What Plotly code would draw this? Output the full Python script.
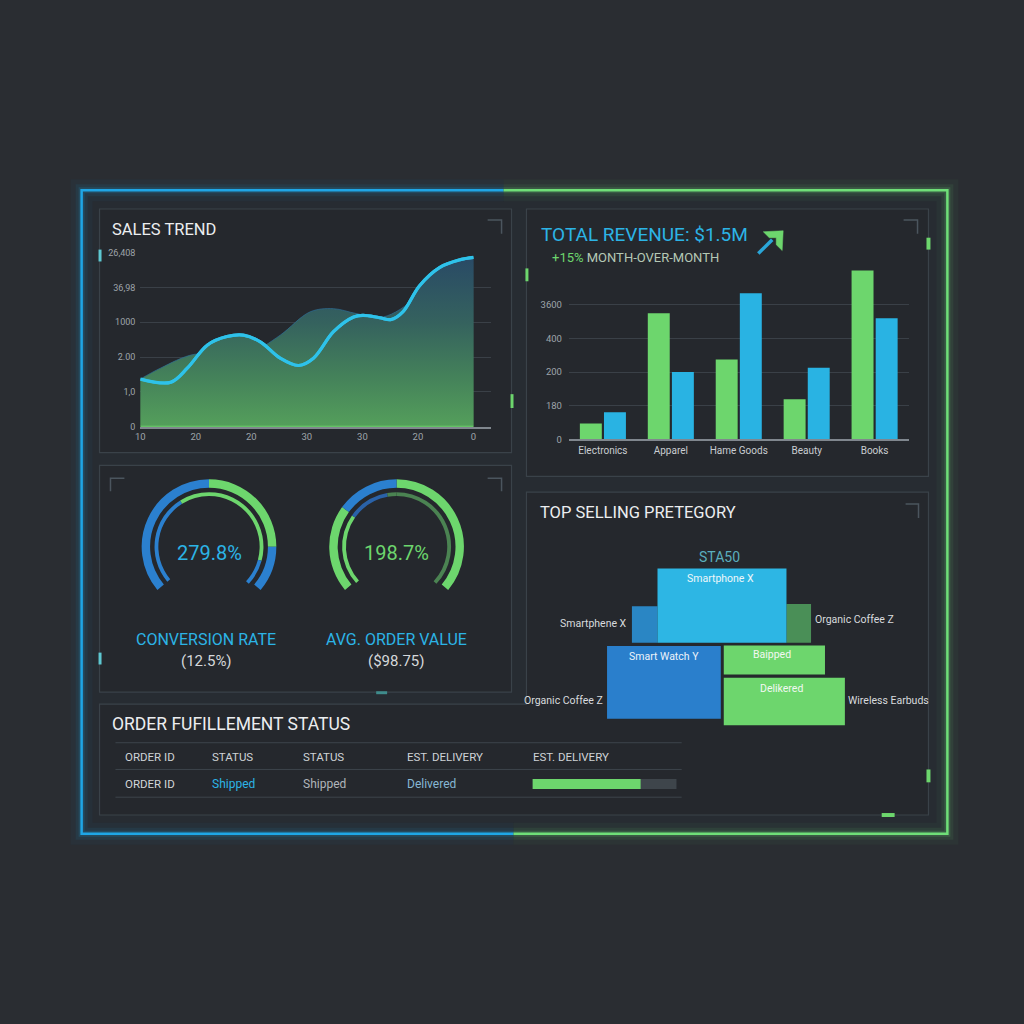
import plotly.graph_objects as go

W = H = 1024
def X(p): return p / W
def Y(p): return 1 - p / H

FONT = "Roboto"
CYAN = "#2cb4e6"
GREEN = "#6dd66d"
GBLUE = "#2b80cf"
WHITE = "#eceef0"
TICK = "#9ea4aa"

# ---------------- data ----------------
# Sales trend (grid units)
sales_x = [0.0, 0.55, 0.85, 1.21, 1.56, 1.86, 2.16, 2.52, 2.85, 3.12, 3.48, 3.84,
           4.01, 4.31, 4.52, 4.73, 5.03, 5.39, 5.75, 6.0]
sales_y = [1.37, 1.28, 1.69, 2.35, 2.59, 2.63, 2.44, 1.97, 1.76, 1.97, 2.73, 3.15,
           3.20, 3.13, 3.08, 3.30, 4.05, 4.57, 4.79, 4.86]
shadow_x = [0.0, 0.37, 0.97, 1.68, 1.98, 2.52, 3.06, 3.48, 3.89, 4.37, 4.97, 5.39, 5.75, 6.0]
shadow_y = [1.37, 1.69, 2.08, 2.05, 2.11, 2.63, 3.30, 3.39, 3.25, 3.15, 3.72, 4.57, 4.79, 4.86]
sales_xticks = [0, 1, 2, 3, 4, 5, 6]
sales_xtick_text = ["10", "20", "20", "30", "30", "20", "0"]
sales_yticks = [0, 1, 2, 3, 4, 5]
sales_ytick_text = ["0", "1,0", "2.00", "1000", "36,98", "26,408"]

# Revenue bars
rev_categories = ["Electronics", "Apparel", "Hame Goods", "Beauty", "Books"]
rev_green = [47, 375, 237, 119, 502]
rev_blue = [81, 200, 434, 213, 360]
rev_yticks = [0, 100, 200, 300, 400]
rev_ytick_text = ["0", "180", "200", "400", "3600"]

# Gauges (degrees, clockwise from 12 o'clock); None = gap
g1_outer = [90, 40, 100, 130]
g1_outer_c = [GREEN, GBLUE, None, GBLUE]
g1_inner = [105, 28, 97, 98, 32]
g1_inner_c = [GREEN, GBLUE, None, GBLUE, GREEN]
g2_outer = [130, 100, 76, 54]
g2_outer_c = [GREEN, None, GREEN, GBLUE]
g2_inner = [133, 95, 77, 45, 10]
g2_inner_c = ["#4b8352", None, GREEN, "#2a62a8", "#4b8352"]

# Top selling blocks (x0, x1, y0, y1 in block units)
blk_x0 = [30.0, 185.3, 55.7, 5.0, 122.3, 122.3]
blk_x1 = [55.7, 210.0, 185.3, 119.3, 224.0, 244.0]
blk_y0 = [86.0, 86.0, 86.0, 9.3, 54.0, 2.7]
blk_y1 = [122.7, 125.0, 161.0, 82.7, 83.3, 50.7]
blk_colors = ["#2a86c4", "#4a8f57", "#2db6e4", "#2a7fcc", GREEN, GREEN]

# Order progress
progress_value = [75]
progress_track = [100]

# ---------------- figure ----------------
fig = go.Figure()

grad = dict(type="vertical", start=0, stop=5,
            colorscale=[[0, "#55a05b"], [0.3, "#44815a"], [0.6, "#35625e"], [1, "#284866"]])

fig.add_trace(go.Scatter(x=shadow_x, y=shadow_y, mode="lines", line=dict(color="rgba(45,110,150,0.7)", width=1, shape="spline"),
                         fill="tozeroy", fillgradient=grad, xaxis="x", yaxis="y", hoverinfo="skip", showlegend=False))
fig.add_trace(go.Scatter(x=sales_x, y=sales_y, mode="lines", line=dict(color="#2ec2ea", width=3, shape="spline"),
                         fill="tozeroy", fillgradient=grad, xaxis="x", yaxis="y", hoverinfo="skip", showlegend=False))
fig.add_trace(go.Scatter(x=sales_x, y=sales_y, mode="lines", line=dict(color="#2ec2ea", width=3.2, shape="spline"),
                         xaxis="x", yaxis="y", hoverinfo="skip", showlegend=False))

fig.add_trace(go.Bar(x=rev_categories, y=rev_green, marker=dict(color=GREEN, line=dict(width=0)),
                     xaxis="x2", yaxis="y2", showlegend=False, hoverinfo="skip"))
fig.add_trace(go.Bar(x=rev_categories, y=rev_blue, marker=dict(color="#29b3e3", line=dict(width=0)),
                     xaxis="x2", yaxis="y2", showlegend=False, hoverinfo="skip"))

# top-selling blocks
blk_cx = [(a + b) / 2 for a, b in zip(blk_x0, blk_x1)]
blk_w = [b - a for a, b in zip(blk_x0, blk_x1)]
blk_h = [b - a for a, b in zip(blk_y0, blk_y1)]
fig.add_trace(go.Bar(x=blk_cx, y=blk_h, base=blk_y0, width=blk_w,
                     marker=dict(color=blk_colors, line=dict(width=0)),
                     xaxis="x3", yaxis="y3", showlegend=False, hoverinfo="skip"))

# progress bar
fig.add_trace(go.Bar(x=progress_track, y=[0], orientation="h", width=1, offsetgroup="p",
                     marker=dict(color="#3e454b", line=dict(width=0)), xaxis="x4", yaxis="y4",
                     showlegend=False, hoverinfo="skip"))
fig.add_trace(go.Bar(x=progress_value, y=[0], orientation="h", width=1, offsetgroup="p",
                     marker=dict(color=GREEN, line=dict(width=0)), xaxis="x4", yaxis="y4",
                     showlegend=False, hoverinfo="skip"))

def gauge(vals, cols, cx, cy, r, hole):
    colors = [c if c else "rgba(0,0,0,0)" for c in cols]
    fig.add_trace(go.Pie(values=vals, marker=dict(colors=colors, line=dict(width=0)),
                         sort=False, direction="clockwise", rotation=0, hole=hole,
                         textinfo="none", hoverinfo="skip", showlegend=False,
                         domain=dict(x=[X(cx - r), X(cx + r)], y=[Y(cy + r), Y(cy - r)])))

gauge(g1_outer, g1_outer_c, 205, 547, 68, 0.875)
gauge(g1_inner, g1_inner_c, 205, 547, 55, 0.93)
gauge(g2_outer, g2_outer_c, 393.5, 547, 68, 0.875)
gauge(g2_inner, g2_inner_c, 393.5, 547, 55, 0.93)

# ---------------- shapes ----------------
shapes = []
def path(pts, close=False):
    s = "M " + " L ".join(f"{X(a):.5f},{Y(b):.5f}" for a, b in pts)
    return s + (" Z" if close else "")

def rect(x0, y0, x1, y1, fill=None, line=None, lw=1, layer="below"):
    shapes.append(dict(type="rect", xref="paper", yref="paper", x0=X(x0), x1=X(x1), y0=Y(y1), y1=Y(y0),
                       fillcolor=fill or "rgba(0,0,0,0)",
                       line=dict(color=line or "rgba(0,0,0,0)", width=lw if line else 0), layer=layer))

def pline(pts, color, w, close=False, fill=None, layer="below"):
    shapes.append(dict(type="path", xref="paper", yref="paper", path=path(pts, close),
                       line=dict(color=color, width=w), fillcolor=fill or "rgba(0,0,0,0)", layer=layer))

# frame interior
rect(77, 187, 947, 837, fill="#272c32")
# glow + frame
blue_pts = [(511, 837), (77, 837), (77, 187), (501, 187)]
green_pts = [(501, 187), (947, 187), (947, 837), (511, 837)]
for w, a in [(22, 0.04), (12, 0.08), (6, 0.16)]:
    pline(blue_pts, f"rgba(31,165,230,{a})", w)
    pline(green_pts, f"rgba(111,224,122,{a})", w)
pline(blue_pts, "#1fa6e6", 2.5)
pline(green_pts, "#6fde78", 2.5)

PANEL = "#25282d"
PB = "#3a4249"
rect(95, 206, 509, 452, fill=PANEL, line=PB, lw=1.2)
rect(524, 206, 928, 476, fill=PANEL, line=PB, lw=1.2)
rect(95, 465, 509, 694, fill=PANEL, line=PB, lw=1.2)
pline([(95, 706), (524, 706), (524, 492), (928, 492), (928, 818), (95, 818)], PB, 1.2, close=True, fill=PANEL)

BR = "#4b555e"
for pts in [[(485, 217), (499, 217), (499, 231)], [(903, 217), (917, 217), (917, 231)],
            [(106, 491), (106, 478), (120, 478)], [(485, 478), (499, 478), (499, 491)],
            [(905, 504), (918, 504), (918, 518)]]:
    pline(pts, BR, 1.5)

# accent marks
for (x0, y0, x1, y1, c) in [(94, 247, 97, 259, "#5ec8d2"), (94, 654, 97, 666, "#5ec8d2"),
                            (508, 393, 511, 407, GREEN), (523, 266, 526, 279, GREEN),
                            (926, 235, 930, 247, GREEN), (926, 772, 930, 785, GREEN),
                            (881, 816, 894, 820, GREEN), (373, 693, 384, 696, "#3f8c8c")]:
    rect(x0, y0, x1, y1, fill=c, layer="above")

# sales green baseline (data-referenced)
shapes.append(dict(type="line", xref="x", yref="y", x0=0, x1=6, y0=0, y1=0,
                   line=dict(color=GREEN, width=2), layer="above"))

# table lines
for yy in [745, 772, 800]:
    pline([(111, yy), (680, yy)], "#3d444b", 1)

# revenue arrow
pline([(757, 251), (771, 237)], "#2aa6d8", 3.5, layer="above")
pline([(762, 229), (782, 228), (781, 248), (775, 242), (775, 235), (768, 235)], GREEN, 0.5,
      close=True, fill=GREEN, layer="above")

# ---------------- annotations ----------------
ann = []
def txt(t, x, y, size, color, anchor="left", family=FONT):
    ann.append(dict(text=t, x=X(x), y=Y(y), xref="paper", yref="paper", showarrow=False,
                    xanchor=anchor, yanchor="middle", font=dict(family=family, size=size, color=color)))

txt("SALES TREND", 106, 227, 16.5, WHITE)
txt("TOTAL REVENUE: $1.5M", 537, 232, 19, CYAN)
txt("<span style='color:#6dd66d'>+15%</span> MONTH-OVER-MONTH", 548, 255, 13, "#b5c8b5")
txt("279.8%", 206, 553, 20, CYAN, "center")
txt("198.7%", 393, 553, 20, GREEN, "center")
txt("CONVERSION RATE", 202, 641, 16, CYAN, "center")
txt("(12.5%)", 202, 662, 15, "#d5d8db", "center")
txt("AVG. ORDER VALUE", 393, 641, 16, CYAN, "center")
txt("($98.75)", 393, 662, 15, "#d5d8db", "center")
txt("TOP SELLING PRETEGORY", 536, 513, 16.5, WHITE)
txt("STA50", 718, 557, 14, "#5aaebd", "center")
txt("Smartphone X", 719, 579, 10.5, "#eef6fa", "center")
txt("Smartphene X", 627, 625, 10.5, "#d8dbde", "right")
txt("Organic Coffee Z", 812, 621, 10.5, "#d8dbde", "left")
txt("Smart Watch Y", 662, 658, 10.5, "#eef3fa", "center")
txt("Baipped", 771, 656, 10.5, "#f2f8f2", "center")
txt("Delikered", 780, 690, 10.5, "#f2f8f2", "center")
txt("Organic Coffee Z", 603, 702, 10.5, "#d8dbde", "right")
txt("Wireless Earbuds", 845, 702, 10.5, "#d8dbde", "left")
txt("ORDER FUFILLEMENT STATUS", 106, 726, 17.5, WHITE)
for t, x in [("ORDER ID", 119), ("STATUS", 206), ("STATUS", 297), ("EST. DELIVERY", 402), ("EST. DELIVERY", 529)]:
    txt(t, x, 759, 11.5, "#cfd3d7")
txt("ORDER ID", 119, 787, 11.5, "#d3d6da")
txt("Shipped", 206, 787, 12, CYAN)
txt("Shipped", 297, 787, 12, "#b0b5ba")
txt("Delivered", 402, 787, 12, "#86b7d4")

# ---------------- layout ----------------
GRID = "#3a4047"
fig.update_layout(
    width=W, height=H, margin=dict(l=0, r=0, t=0, b=0, pad=0),
    paper_bgcolor="#2a2d32", plot_bgcolor="rgba(0,0,0,0)",
    barmode="group", bargap=0.29, bargroupgap=0.09,
    shapes=shapes, annotations=ann, showlegend=False,
    font=dict(family=FONT, color=TICK),
    xaxis=dict(domain=[X(136), X(488)], range=[0, 6.31], anchor="y", tickvals=sales_xticks, ticktext=sales_xtick_text,
               showgrid=False, zeroline=False, showline=True, linecolor="#80878e", linewidth=1.5,
               ticks="", tickfont=dict(size=9.5, color=TICK), ticklabelstandoff=0, fixedrange=True),
    yaxis=dict(domain=[Y(426), Y(250)], range=[0, 5], anchor="x", tickvals=sales_yticks, ticktext=sales_ytick_text,
               showgrid=True, gridcolor=GRID, gridwidth=1, zeroline=False, showline=False, ticks="",
               tickfont=dict(size=9, color=TICK), ticklabelstandoff=4, fixedrange=True),
    xaxis2=dict(domain=[X(566.7), X(908)], range=[-0.5, 4.5], anchor="y2", showgrid=False, zeroline=False,
                showline=True, linecolor="#80878e", linewidth=1.5, ticks="",
                tickfont=dict(size=10, color="#c9cdd1"), ticklabelstandoff=1, fixedrange=True),
    yaxis2=dict(domain=[Y(438.7), Y(261.9)], range=[0, 520], anchor="x2", tickvals=rev_yticks, ticktext=rev_ytick_text,
                showgrid=True, gridcolor=GRID, gridwidth=1, zeroline=False, showline=False, ticks="",
                tickfont=dict(size=9.5, color=TICK), ticklabelstandoff=6, fixedrange=True),
    xaxis3=dict(domain=[X(600), X(850)], range=[0, 250], anchor="y3", visible=False, fixedrange=True),
    yaxis3=dict(domain=[Y(730), Y(565)], range=[0, 165], anchor="x3", visible=False, fixedrange=True),
    xaxis4=dict(domain=[X(530), X(675)], range=[0, 100], anchor="y4", visible=False, fixedrange=True),
    yaxis4=dict(domain=[Y(791.7), Y(781.7)], range=[-0.5, 0.5], anchor="x4", visible=False, fixedrange=True),
)

fig.write_html("out.html")
